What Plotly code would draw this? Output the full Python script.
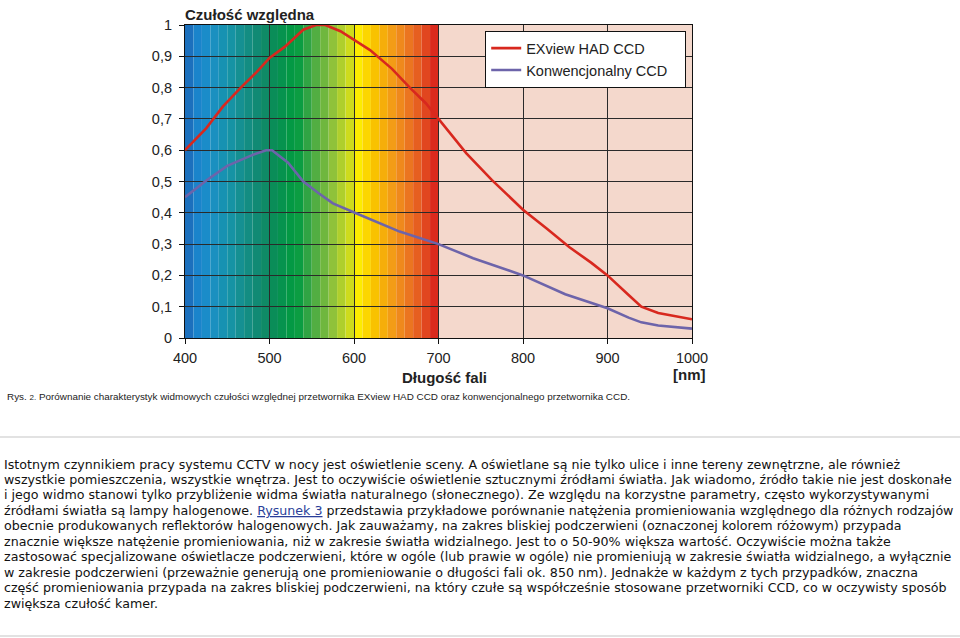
import plotly.graph_objects as go

# ---------------- data ----------------
wl_exview = [400, 425, 445, 466, 485, 500, 518, 540, 555, 566, 584, 601, 619, 645, 666, 685,
             700, 733, 763, 780, 800, 828, 855, 881, 900, 924, 940, 960, 980, 1000]
val_exview = [0.60, 0.67, 0.74, 0.80, 0.85, 0.895, 0.93, 0.985, 1.0, 1.0, 0.98, 0.95, 0.92, 0.86, 0.80, 0.75,
              0.70, 0.59, 0.505, 0.46, 0.41, 0.35, 0.29, 0.24, 0.20, 0.14, 0.10, 0.08, 0.07, 0.06]

wl_conv = [400, 426, 450, 466, 480, 496, 503, 522, 540, 557, 575, 601, 628, 654, 700, 741,
           800, 850, 900, 925, 940, 960, 1000]
val_conv = [0.45, 0.505, 0.55, 0.57, 0.585, 0.60, 0.60, 0.56, 0.50, 0.465, 0.43, 0.40, 0.37, 0.34, 0.30, 0.255,
            0.20, 0.14, 0.095, 0.065, 0.05, 0.04, 0.03]

series_names = ["EXview HAD CCD", "Konwencjonalny CCD\u00a0\u00a0\u00a0"]
series_colors = ["#d8281e", "#6d64aa"]

x_ticks = [400, 500, 600, 700, 800, 900, 1000]
x_ticktext = ["400", "500", "600", "700", "800", "900", "1000"]
y_ticks = [0, 0.1, 0.2, 0.3, 0.4, 0.5, 0.6, 0.7, 0.8, 0.9, 1.0]
y_ticktext = ["0", "0,1", "0,2", "0,3", "0,4", "0,5", "0,6", "0,7", "0,8", "0,9", "1"]

# visible spectrum bands (edges in nm) and their colours
band_edges = [400, 410, 420, 430, 440, 450, 460, 470, 480, 490, 500, 510, 520, 530, 540, 550,
              560, 570, 580, 590, 600, 610, 620, 630, 640, 650, 660, 670, 680, 690, 700]
band_colors = ["#1c70bd", "#1a84cb", "#1a8cc9", "#1a90c0", "#1792b2", "#1693a4", "#159092", "#138d82",
               "#118a74", "#0f8a66", "#0a8d58", "#06934e", "#039944", "#0b9d42", "#30a444", "#52ae42",
               "#6fb73e", "#8fc23a", "#afcf2c", "#cedb1c", "#fdec00", "#fcd600", "#f9c200", "#f6ae0a",
               "#f39c16", "#ef891c", "#eb7520", "#e65f20", "#e1461f", "#da2a1d"]
ir_range = [700, 1000]
ir_color = "#f4d8cc"

caption = ("Rys. <span style='font-size:8px'>2.</span> Porównanie charakterystyk widmowych czułości "
           "względnej przetwornika EXview HAD CCD oraz konwencjonalnego przetwornika CCD.")

paragraph_lines = [
    "Istotnym czynnikiem pracy systemu CCTV w nocy jest oświetlenie sceny. A oświetlane są nie tylko ulice i inne tereny zewnętrzne, ale również",
    "wszystkie pomieszczenia, wszystkie wnętrza. Jest to oczywiście oświetlenie sztucznymi źródłami światła. Jak wiadomo, źródło takie nie jest doskonałe",
    "i jego widmo stanowi tylko przybliżenie widma światła naturalnego (słonecznego). Ze względu na korzystne parametry, często wykorzystywanymi",
    "źródłami światła są lampy halogenowe. <span style='color:#2a3f9a'><u>Rysunek 3</u></span> przedstawia przykładowe porównanie natężenia promieniowania względnego dla różnych rodzajów",
    "obecnie produkowanych reflektorów halogenowych. Jak zauważamy, na zakres bliskiej podczerwieni (oznaczonej kolorem różowym) przypada",
    "znacznie większe natężenie promieniowania, niż w zakresie światła widzialnego. Jest to o 50-90% większa wartość. Oczywiście można także",
    "zastosować specjalizowane oświetlacze podczerwieni, które w ogóle (lub prawie w ogóle) nie promieniują w zakresie światła widzialnego, a wyłącznie",
    "w zakresie podczerwieni (przeważnie generują one promieniowanie o długości fali ok. 850 nm). Jednakże w każdym z tych przypadków, znaczna",
    "część promieniowania przypada na zakres bliskiej podczerwieni, na który czułe są współcześnie stosowane przetworniki CCD, co w oczywisty sposób",
    "zwiększa czułość kamer.",
]

# ---------------- layout geometry ----------------
W, H = 960, 638
PL, PR, PT, PB = 185, 692, 25, 338


def px_x(px):
    return (px - PL) / (PR - PL)


def px_y(py):
    return (PB - py) / (PB - PT)


fig = go.Figure()

for name, xs, ys, col in zip(series_names, [wl_exview, wl_conv], [val_exview, val_conv], series_colors):
    fig.add_trace(go.Scatter(x=xs, y=ys, mode="lines", name=name,
                             line=dict(color=col, width=2.6), hoverinfo="x+y"))

shapes = []
for i, c in enumerate(band_colors):
    shapes.append(dict(type="rect", xref="x", yref="y", x0=band_edges[i], x1=band_edges[i + 1],
                       y0=0, y1=1, fillcolor=c, line=dict(width=0), layer="below"))
shapes.append(dict(type="rect", xref="x", yref="y", x0=ir_range[0], x1=ir_range[1], y0=0, y1=1,
                   fillcolor=ir_color, line=dict(width=0), layer="below"))
for py in (437, 636):
    shapes.append(dict(type="line", xref="paper", yref="paper", x0=px_x(0), x1=px_x(W),
                       y0=px_y(py), y1=px_y(py), line=dict(color="#e2e2e2", width=2)))

chart_font = "Liberation Sans, Arial, sans-serif"
annotations = [
    dict(text="<b>Czułość względna</b>", x=px_x(183), y=px_y(14), xanchor="left", yanchor="middle",
         font=dict(family=chart_font, size=15, color="#222")),
    dict(text="<b>Długość fali</b>", x=px_x(444), y=px_y(378), xanchor="center", yanchor="middle",
         font=dict(family=chart_font, size=15, color="#222")),
    dict(text="<b>[nm]</b>", x=px_x(689), y=px_y(374), xanchor="center", yanchor="middle",
         font=dict(family=chart_font, size=15, color="#222")),
    dict(text=caption, x=px_x(5), y=px_y(397), xanchor="left", yanchor="middle",
         font=dict(family="Liberation Sans, Arial, sans-serif", size=9.9, color="#222")),
]
line_y0, line_step = 464, 15.45
for i, t in enumerate(paragraph_lines):
    annotations.append(dict(text=t, x=px_x(2), y=px_y(line_y0 + i * line_step), xanchor="left",
                            yanchor="middle",
                            font=dict(family="DejaVu Sans, Verdana, sans-serif", size=12.65, color="#111")))
for a in annotations:
    a.update(xref="paper", yref="paper", showarrow=False, align="left")

fig.update_layout(
    width=W, height=H,
    margin=dict(l=PL, r=W - PR, t=PT, b=H - PB, pad=0),
    paper_bgcolor="white", plot_bgcolor="white",
    shapes=shapes, annotations=annotations,
    showlegend=True,
    legend=dict(x=px_x(485), y=px_y(31), xanchor="left", yanchor="top",
                bgcolor="white", bordercolor="#111", borderwidth=1.2,
                font=dict(family=chart_font, size=14.5, color="#222"),
                itemwidth=30, tracegroupgap=0),
    xaxis=dict(range=[400, 1000], tickvals=x_ticks, ticktext=x_ticktext, showgrid=True,
               gridcolor="#2a2a2a", gridwidth=1, showline=True, linecolor="#111", linewidth=1.2,
               mirror=True, ticks="outside", ticklen=5, tickcolor="#111", ticklabelstandoff=1,
               tickfont=dict(family=chart_font, size=14.5, color="#222"), zeroline=False, fixedrange=True),
    yaxis=dict(range=[0, 1], tickvals=y_ticks, ticktext=y_ticktext, showgrid=True,
               gridcolor="#2a2a2a", gridwidth=1, showline=True, linecolor="#111", linewidth=1.2,
               mirror=True, ticks="outside", ticklen=5, tickcolor="#111", ticklabelstandoff=4,
               tickfont=dict(family=chart_font, size=14.5, color="#222"), zeroline=False, fixedrange=True),
)

fig.write_html("out.html", config={"displayModeBar": False},
               post_script="document.body.style.margin='0';document.body.style.overflow='hidden';")
